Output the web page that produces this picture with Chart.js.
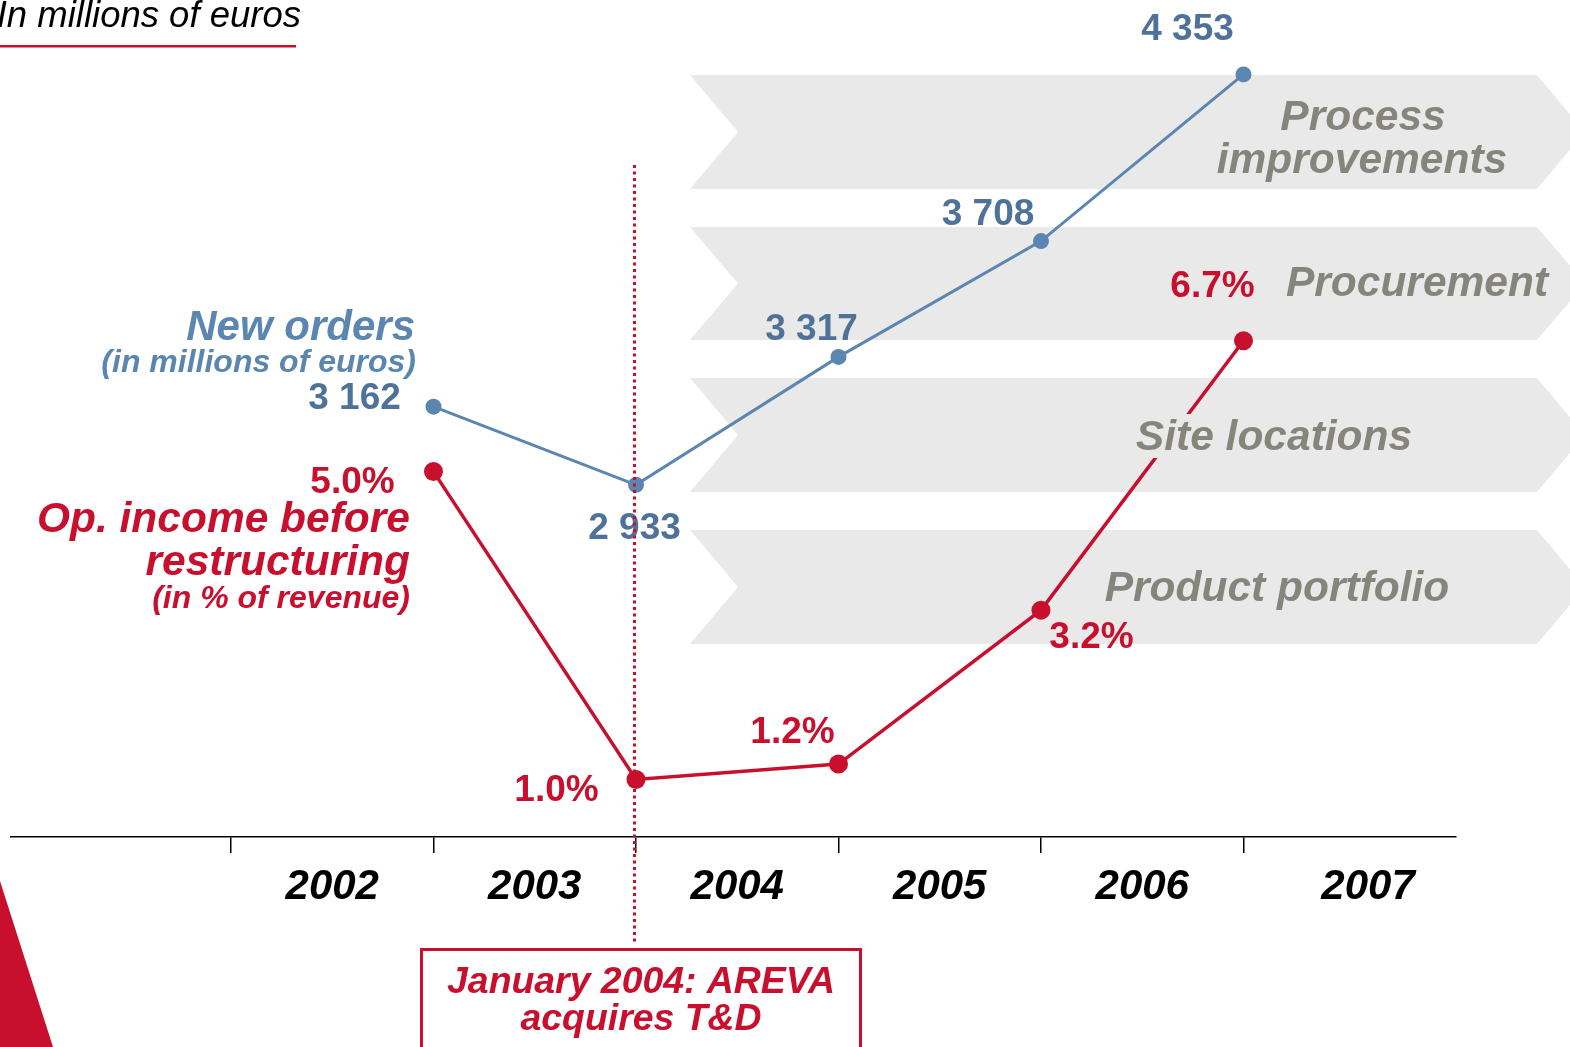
<!DOCTYPE html>
<html><head><meta charset="utf-8">
<script src="https://cdn.jsdelivr.net/npm/chart.js@4.4.1/dist/chart.umd.min.js"></script>
<style>html,body{margin:0;padding:0;background:#fff;overflow:hidden}#wrap{position:relative;width:1570px;height:1047px}</style>
</head><body><div id="wrap"><canvas id="c" width="1570" height="1047"></canvas></div>
<script>
// ---- data ----
const years = [2002, 2003, 2004, 2005, 2006];
const newOrders = [3162, 2933, 3317, 3708, 4353];
const opIncome = [5.0, 1.0, 1.2, 3.2, 6.7];
const ordersLabels = ['3 162', '2 933', '3 317', '3 708', '4 353'];
const incomeLabels = ['5.0%', '1.0%', '1.2%', '3.2%', '6.7%'];
const tickYears = [2001, 2002, 2003, 2004, 2005, 2006, 2007];
const yearLabels = ['', '2002', '2003', '2004', '2005', '2006', '    2007'];
const levers = [['Process', 'improvements'], ['Procurement'], ['Site locations'], ['Product portfolio']];
const eventTick = 2003; // end of 2003 = January 2004
const eventText = ['January 2004: AREVA', 'acquires T&D'];

// ---- label placement (pixels relative to points) ----
const ordersOff = [[-79, 2], [-1.5, 54], [-27, -17], [-53, -16], [-56, -34]];
const incomeOff = [[-81, 21], [-79.5, 21.5], [-46, -21], [50.5, 38], [-31, -44]];

const FF = '"Liberation Sans", Arial, sans-serif';
const RED = '#c8102e', BLUE = '#5b86b0', BLUE_D = '#4f7398', GRAY = '#85857c', BAND = '#e9e9e9';

const deco = {
  id: 'deco',
  beforeDatasetsDraw(chart) {
    const c = chart.ctx;
    c.save();
    c.fillStyle = BAND;
    [[75, 189], [227, 340], [378, 492], [530, 644]].forEach(([t, b]) => {
      const m = (t + b) / 2, d = 48;
      c.beginPath();
      c.moveTo(690, t); c.lineTo(1537, t); c.lineTo(1537 + d, m); c.lineTo(1537, b);
      c.lineTo(690, b); c.lineTo(690 + d, m); c.closePath(); c.fill();
    });
    c.restore();
  },
  afterDatasetsDraw(chart) {
    const c = chart.ctx;
    const xs = chart.scales.x;
    c.save();
    // patch behind "Site locations"
    c.fillStyle = BAND;
    c.fillRect(1128, 414, 290, 44);
    // lever labels
    c.fillStyle = GRAY;
    c.textAlign = 'center';
    c.textBaseline = 'alphabetic';
    c.font = 'italic bold 42.5px ' + FF;
    c.fillText(levers[0][0], 1363, 130);
    c.fillText(levers[0][1], 1362, 173);
    c.fillText(levers[1][0], 1417, 296);
    c.fillText(levers[2][0], 1274, 450);
    c.fillText(levers[3][0], 1277, 601);

    // point labels
    c.font = 'bold 37px ' + FF;
    const mB = chart.getDatasetMeta(0).data, mR = chart.getDatasetMeta(1).data;
    c.fillStyle = BLUE_D;
    mB.forEach((p, i) => c.fillText(ordersLabels[i], p.x + ordersOff[i][0], p.y + ordersOff[i][1]));
    c.fillStyle = RED;
    mR.forEach((p, i) => c.fillText(incomeLabels[i], p.x + incomeOff[i][0], p.y + incomeOff[i][1]));

    // series titles
    c.textAlign = 'right';
    c.fillStyle = BLUE;
    c.font = 'italic bold 42px ' + FF;
    c.fillText('New orders', 415, 340);
    c.font = 'italic bold 32px ' + FF;
    c.fillText('(in millions of euros)', 416, 372);
    c.fillStyle = RED;
    c.font = 'italic bold 42.5px ' + FF;
    c.fillText('Op. income before', 410, 532);
    c.fillText('restructuring', 410, 575);
    c.font = 'italic bold 32px ' + FF;
    c.fillText('(in % of revenue)', 410, 608);

    // top-left unit
    c.fillStyle = '#000';
    c.font = 'italic 36.5px ' + FF;
    c.fillText('In millions of euros', 301, 27);
    c.fillStyle = RED;
    c.fillRect(0, 45, 296, 2.5);

    // red corner triangle
    c.beginPath(); c.moveTo(0, 881); c.lineTo(53, 1047); c.lineTo(0, 1047); c.closePath(); c.fill();

    // event dotted line
    const ex = Math.round(xs.getPixelForValue(eventTick)) - 1.5;
    c.strokeStyle = RED;
    c.lineWidth = 3;
    c.setLineDash([3, 3.5]);
    c.beginPath(); c.moveTo(ex, 165); c.lineTo(ex, 944); c.stroke();
    c.setLineDash([]);
    // event box
    c.lineWidth = 3;
    c.strokeRect(421.5, 949.5, 439, 120);
    c.fillStyle = RED;
    c.textAlign = 'center';
    c.font = 'italic bold 37.4px ' + FF;
    c.fillText(eventText[0], 641, 993);
    c.fillText(eventText[1], 641, 1030);
    c.restore();
  }
};

new Chart(document.getElementById('c'), {
  type: 'line',
  data: {
    datasets: [
      {
        label: 'New orders', yAxisID: 'yB',
        data: years.map((y, i) => ({ x: y, y: newOrders[i] })),
        borderColor: BLUE, backgroundColor: BLUE, borderWidth: 3,
        pointRadius: 8, pointBorderWidth: 0, tension: 0, clip: false
      },
      {
        label: 'Op. income before restructuring', yAxisID: 'yR',
        data: years.map((y, i) => ({ x: y, y: opIncome[i] })),
        borderColor: RED, backgroundColor: RED, borderWidth: 3.5,
        pointRadius: 9.5, pointBorderWidth: 0, tension: 0, clip: false
      }
    ]
  },
  options: {
    responsive: false, animation: false, devicePixelRatio: 1,
    layout: { autoPadding: false, padding: { left: 11, right: 114, top: 0, bottom: 0 } },
    plugins: { legend: { display: false }, tooltip: { enabled: false } },
    scales: {
      x: {
        type: 'linear', min: 1999.9136, max: 2007.0494,
        afterBuildTicks: s => { s.ticks = tickYears.map(v => ({ value: v })); },
        afterFit: s => { s.height = 210; },
        ticks: {
          callback: (v, i) => yearLabels[i], labelOffset: -101.25, padding: 9,
          autoSkip: false, maxRotation: 0, color: '#000',
          font: { family: FF, size: 42, weight: 'bold', style: 'italic' }
        },
        grid: {
          drawOnChartArea: false, drawTicks: true, tickLength: 16, lineWidth: 1.5,
          color: ctx => (ctx.tick && ctx.tick.value === 2007) ? 'rgba(0,0,0,0)' : '#000'
        },
        border: { display: true, color: '#000', width: 1.5 }
      },
      yB: { type: 'logarithmic', display: false, min: 2090, max: 4676 },
      yR: { type: 'linear', display: false, min: 0.2525, max: 11.127 }
    }
  },
  plugins: [deco]
});
</script></body></html>
